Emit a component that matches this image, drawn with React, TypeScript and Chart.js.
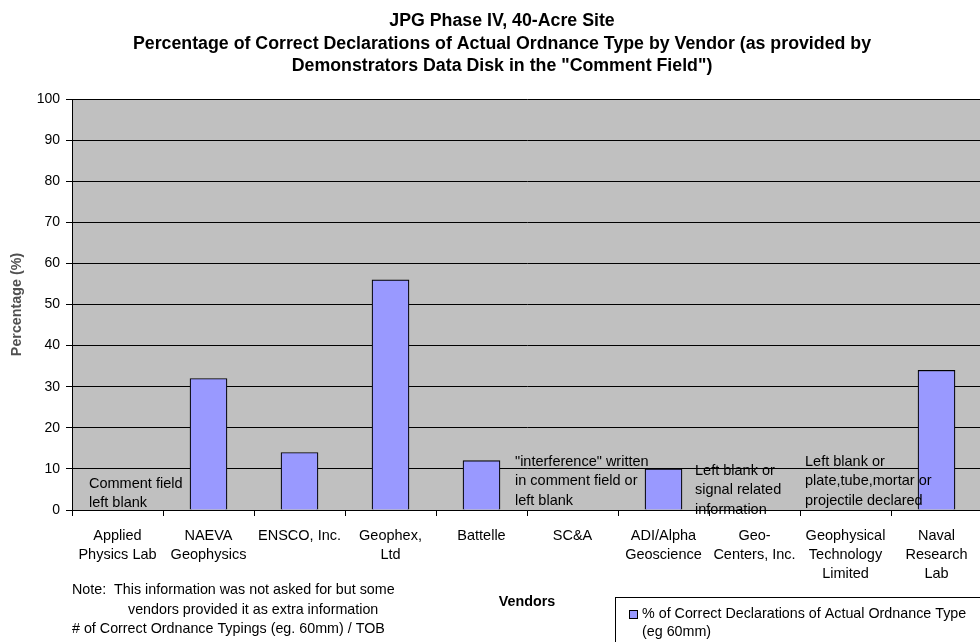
import React, { useEffect, useRef } from "react";
import { Chart, registerables } from "chart.js";

Chart.register(...registerables);

// ---------- data ----------
const titleLines = [
  "JPG Phase IV, 40-Acre Site",
  "Percentage of Correct Declarations of Actual Ordnance Type by Vendor (as provided by",
  'Demonstrators Data Disk in the "Comment Field")',
];

const vendors: string[][] = [
  ["Applied", "Physics Lab"],
  ["NAEVA", "Geophysics"],
  ["ENSCO, Inc."],
  ["Geophex,", "Ltd"],
  ["Battelle"],
  ["SC&A"],
  ["ADI/Alpha", "Geoscience"],
  ["Geo-", "Centers, Inc."],
  ["Geophysical", "Technology", "Limited"],
  ["Naval", "Research", "Lab"],
];

const correctPct = [0, 32, 14, 56, 12, 0, 10, 0, 0, 34];

const seriesLabel = [
  "% of Correct Declarations of Actual Ordnance Type",
  "(eg 60mm)",
];

const yMin = 0;
const yMax = 100;
const yStep = 10;

const xAxisTitle = "Vendors";
const yAxisTitle = "Percentage (%)";

const noteLines = [
  "Note:  This information was not asked for but some",
  "vendors provided it as extra information",
  "# of Correct Ordnance Typings (eg. 60mm) / TOB",
];

const commentNotes = [
  { at: 0, lines: ["Comment field", "left blank"] },
  { at: 4, lines: ['"interference" written', "in comment field or", "left blank"] },
  { at: 6, lines: ["Left blank or", "signal related", "information"] },
  { at: 8, lines: ["Left blank or", "plate,tube,mortar or", "projectile declared"] },
];

// ---------- layout / style (not data) ----------
const FONT = "'Liberation Sans', Arial, Helvetica, sans-serif";
const TXT = 14.3;
const BAR_FILL = "#9999FF";
const PLOT_BG = "#C0C0C0";
const commentLayout = [
  { dx: -28.5, dy: -26 },
  { dx: 33.5, dy: -48 },
  { dx: 31.5, dy: -39 },
  { dx: -40.5, dy: -48 },
];

const decorPlugin = {
  id: "decor",
  beforeDraw(chart: any) {
    const { ctx, chartArea, width, height } = chart;
    ctx.save();
    ctx.fillStyle = "#FFFFFF";
    ctx.fillRect(0, 0, width, height);
    ctx.fillStyle = PLOT_BG;
    ctx.fillRect(
      chartArea.left,
      chartArea.top,
      chartArea.right - chartArea.left,
      chartArea.bottom - chartArea.top
    );
    ctx.restore();
  },
  afterDatasetsDraw(chart: any) {
    const { ctx, chartArea } = chart;
    const xs = chart.scales.x;
    ctx.save();
    ctx.fillStyle = "#000";
    ctx.font = `${TXT + 0.2}px ${FONT}`;
    ctx.textAlign = "left";
    ctx.textBaseline = "middle";
    commentNotes.forEach((n, i) => {
      const lay = commentLayout[i];
      const x = xs.getPixelForValue(n.at) + lay.dx;
      const y0 = chartArea.bottom + lay.dy;
      n.lines.forEach((l, j) => ctx.fillText(l, x, y0 + j * 19.3));
    });
    ctx.restore();
  },
  afterDraw(chart: any) {
    const { ctx, chartArea } = chart;
    ctx.save();
    ctx.fillStyle = "#000";
    ctx.textBaseline = "middle";

    // title, fitted to the reference width
    ctx.font = `bold 14px ${FONT}`;
    const w = ctx.measureText(titleLines[1]).width;
    const ts = (14 * 739) / w;
    ctx.font = `bold ${ts}px ${FONT}`;
    ctx.textAlign = "center";
    const ty = [21, 44, 66];
    titleLines.forEach((l, i) => ctx.fillText(l, 502, ty[i]));

    // x axis title
    ctx.font = `bold ${TXT}px ${FONT}`;
    ctx.fillText(xAxisTitle, (chartArea.left + chartArea.right) / 2, 602);

    // y axis title
    ctx.save();
    ctx.translate(17, (chartArea.top + chartArea.bottom) / 2);
    ctx.rotate(-Math.PI / 2);
    ctx.fillStyle = "#505050";
    ctx.font = `bold ${TXT}px ${FONT}`;
    ctx.fillText(yAxisTitle, 0, 0);
    ctx.restore();

    // note
    ctx.textAlign = "left";
    ctx.font = `${TXT}px ${FONT}`;
    ctx.fillText(noteLines[0], 72, 590);
    ctx.fillText(noteLines[1], 128, 610);
    ctx.fillText(noteLines[2], 72, 629);

    // legend
    ctx.fillStyle = "#FFFFFF";
    ctx.fillRect(615, 597, 400, 100);
    ctx.strokeStyle = "#000";
    ctx.lineWidth = 1;
    ctx.strokeRect(615.5, 597.5, 400, 100);
    const ds = chart.data.datasets[0];
    ctx.fillStyle = ds.backgroundColor;
    ctx.fillRect(629, 610, 9, 9);
    ctx.strokeStyle = ds.borderColor;
    ctx.strokeRect(629.5, 610.5, 8, 8);
    ctx.fillStyle = "#000";
    ctx.font = `${TXT}px ${FONT}`;
    seriesLabel.forEach((l, i) => ctx.fillText(l, 642, 614 + i * 18.5));
    ctx.restore();
  },
};

export default function App() {
  const ref = useRef<HTMLCanvasElement | null>(null);

  useEffect(() => {
    const canvas = ref.current;
    if (!canvas) return;
    Chart.defaults.font.family = FONT;
    const chart = new Chart(canvas, {
      type: "bar",
      data: {
        labels: vendors,
        datasets: [
          {
            label: seriesLabel.join(" "),
            data: correctPct,
            backgroundColor: BAR_FILL,
            borderColor: "#000000",
            borderWidth: 1.2,
            borderSkipped: "start",
            barThickness: 37,
          },
        ],
      },
      options: {
        responsive: false,
        animation: false,
        devicePixelRatio: 1,
        layout: { padding: { left: 0, top: 99, right: 2, bottom: 0 } },
        plugins: {
          legend: { display: false },
          title: { display: false },
          tooltip: { enabled: false },
        },
        scales: {
          x: {
            offset: true,
            grid: {
              offset: true,
              drawOnChartArea: false,
              drawTicks: true,
              tickLength: 6,
              color: "#000",
            },
            border: { display: true, color: "#000", width: 1 },
            ticks: {
              color: "#000",
              font: { size: TXT + 0.2, lineHeight: 1.33 },
              padding: 10,
              maxRotation: 0,
              autoSkip: false,
            },
            afterFit(scale: any) {
              scale.height = 132;
            },
          },
          y: {
            min: yMin,
            max: yMax,
            ticks: {
              stepSize: yStep,
              color: "#000",
              font: { size: 14 },
              padding: 6,
            },
            grid: {
              color: "#000",
              drawTicks: true,
              tickLength: 6,
            },
            border: { display: true, color: "#000", width: 1 },
            afterFit(scale: any) {
              scale.width = 72;
            },
          },
        },
      },
      plugins: [decorPlugin],
    });
    return () => chart.destroy();
  }, []);

  return (
    <div
      style={{
        position: "absolute",
        left: 0,
        top: 0,
        width: 980,
        height: 642,
        overflow: "hidden",
        background: "#fff",
      }}
    >
      <canvas ref={ref} width={984} height={642} style={{ display: "block" }} />
    </div>
  );
}
